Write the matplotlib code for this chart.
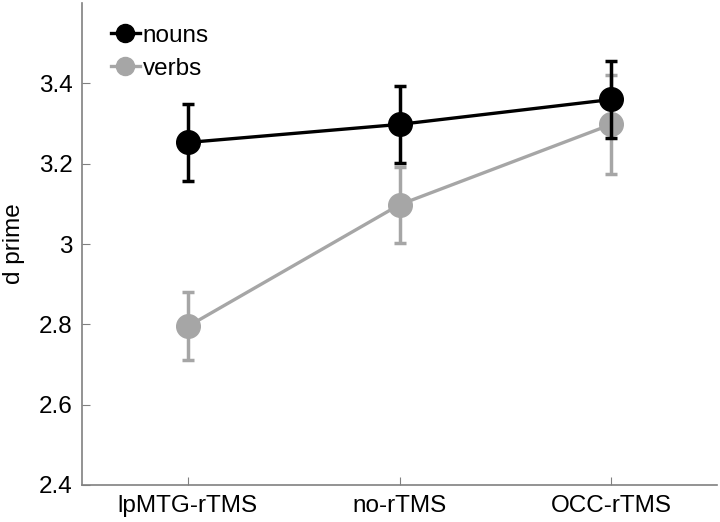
import matplotlib
matplotlib.use("Agg")
import matplotlib.pyplot as plt
from matplotlib.lines import Line2D

# conditions on the x axis
conditions = ["lpMTG-rTMS", "no-rTMS", "OCC-rTMS"]

# d prime means and error bars
nouns = [3.253, 3.298, 3.360]
nouns_err = [0.097, 0.095, 0.097]
verbs = [2.795, 3.098, 3.298]
verbs_err = [0.085, 0.095, 0.123]

plt.rcParams["font.family"] = ["Liberation Sans", "DejaVu Sans"]

fig = plt.figure(figsize=(7.2, 5.22), dpi=100)
ax = fig.add_axes([0.114, 0.071, 0.882, 0.923])

x = [1, 2, 3]
grey = "#a6a6a6"

ax.errorbar(x, verbs, yerr=verbs_err, color=grey, lw=2.4, marker="o",
            markersize=17, capsize=4, capthick=2.5, elinewidth=2.5,
            zorder=2)
ax.errorbar(x, nouns, yerr=nouns_err, color="black", lw=2.4, marker="o",
            markersize=17, capsize=4, capthick=2.5, elinewidth=2.5,
            zorder=3)

ax.set_xlim(0.5, 3.5)
ax.set_ylim(2.4, 3.6)
ax.set_xticks(x)
ax.set_xticklabels(conditions)
ax.set_yticks([2.4, 2.6, 2.8, 3.0, 3.2, 3.4])
ax.set_yticklabels(["2.4", "2.6", "2.8", "3", "3.2", "3.4"])
ax.set_ylabel("d prime", fontsize=17.5, labelpad=10)

for s in ["top", "right"]:
    ax.spines[s].set_visible(False)
for s in ["left", "bottom"]:
    ax.spines[s].set_color("#808080")
    ax.spines[s].set_linewidth(1.2)
ax.tick_params(direction="in", length=6, color="#808080", labelsize=17.5, pad=7)

# legend: line + marker only
handles = [Line2D([], [], color="black", lw=2.4, marker="o", markersize=13),
           Line2D([], [], color=grey, lw=2.4, marker="o", markersize=13)]
ax.legend(handles, ["nouns", "verbs"], loc="upper left", frameon=False,
          fontsize=17.5, handlelength=1.2, handletextpad=0.1,
          labelspacing=0.45, borderaxespad=0.0, bbox_to_anchor=(0.03, 0.975))

fig.savefig("out.png", dpi=100)
